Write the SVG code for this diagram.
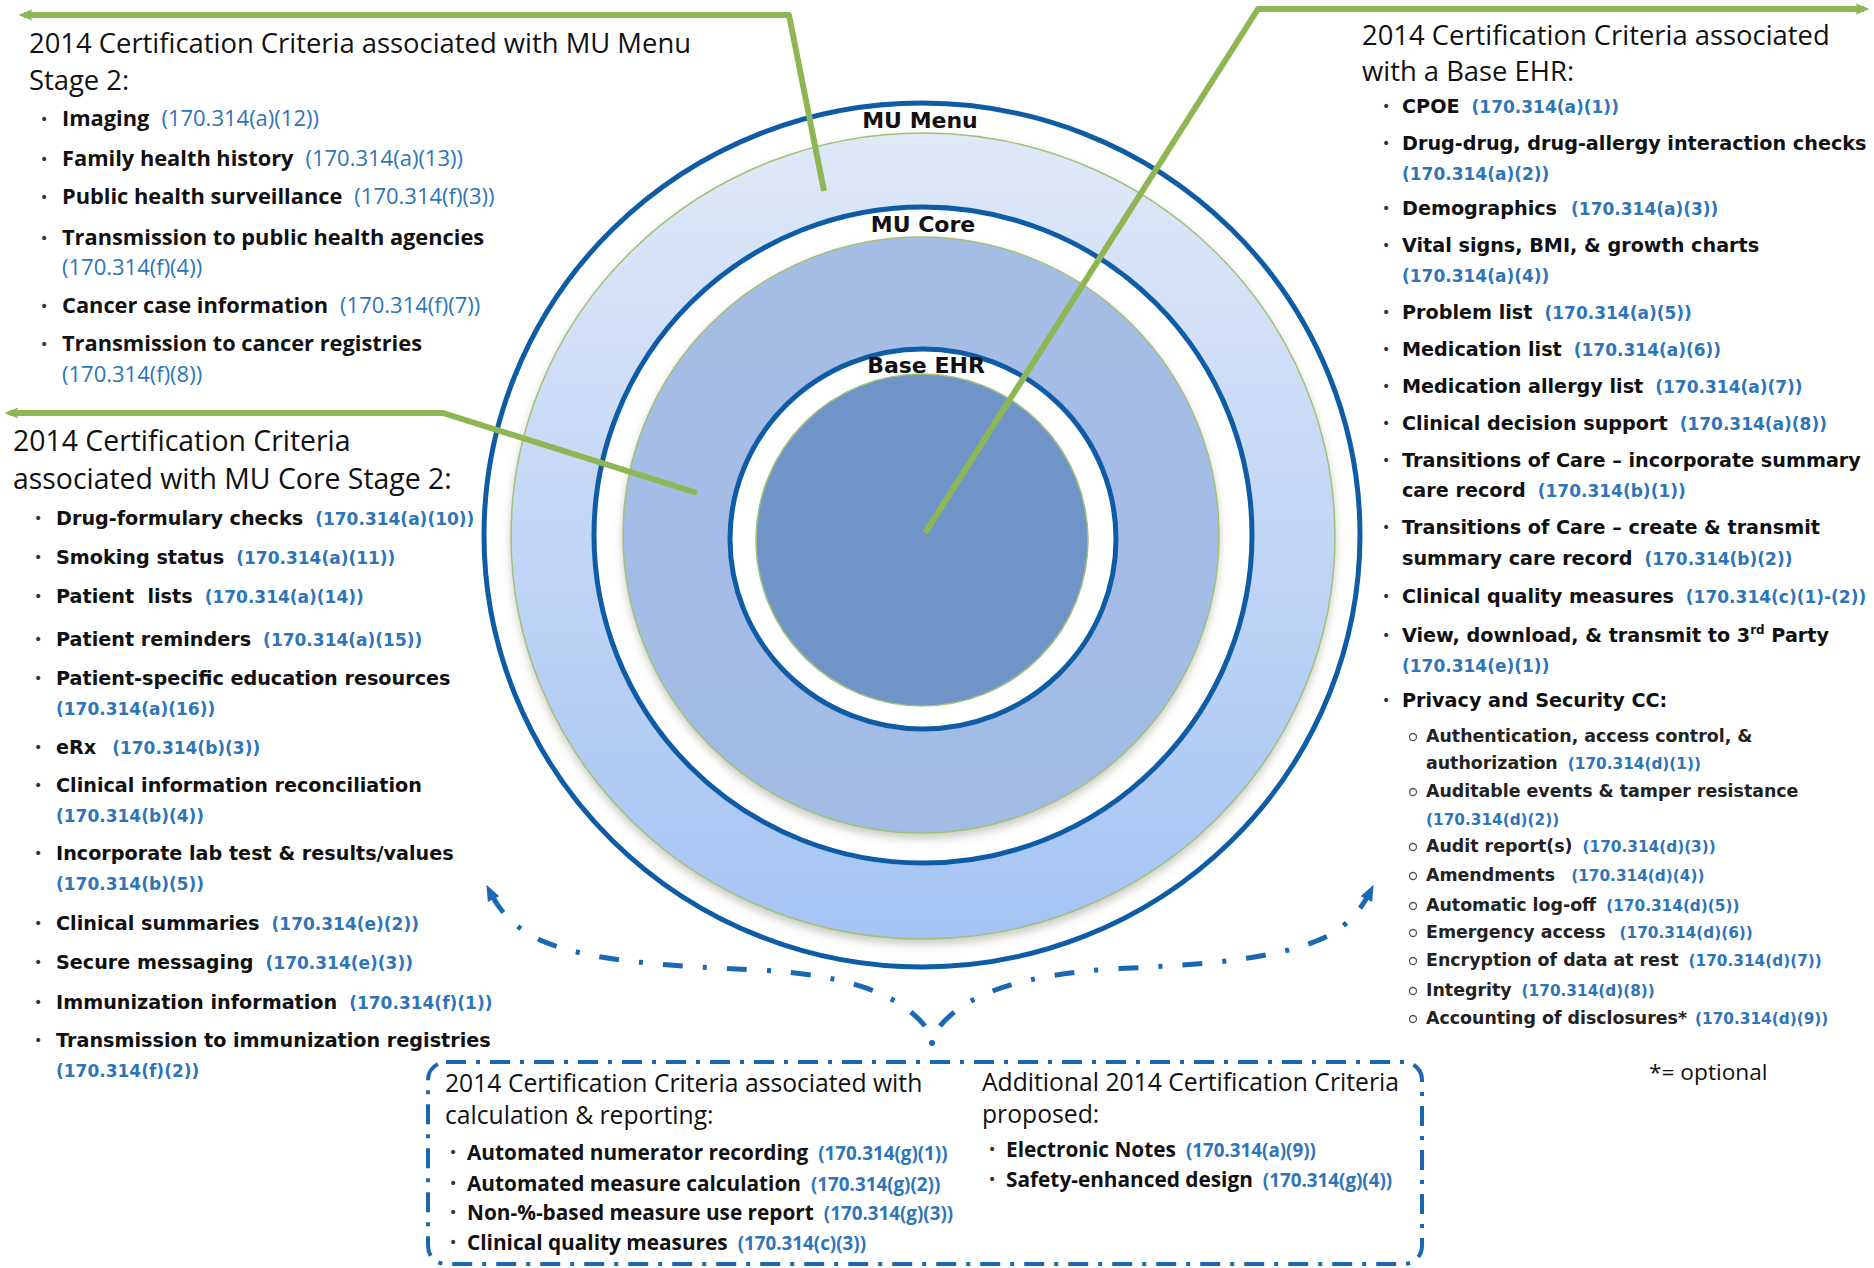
<svg xmlns="http://www.w3.org/2000/svg" width="1874" height="1268" viewBox="0 0 1874 1268">
<defs>
<style>
.ttl{font-family:"Open Sans",Lato,sans-serif;font-size:27.4px;fill:#111}
.mi{font-family:"Open Sans",Lato,sans-serif;font-weight:bold;font-size:21.8px;fill:#111}
.mc{font-family:"Open Sans",Lato,sans-serif;font-weight:normal;font-size:22px;fill:#2e75b8}
.ti{font-family:"DejaVu Sans",Verdana,sans-serif;font-weight:bold;font-size:19.2px;fill:#111}
.tc{font-family:"DejaVu Sans",Verdana,sans-serif;font-weight:bold;font-size:17px;fill:#2e75b8}
.si{font-family:"DejaVu Sans",Verdana,sans-serif;font-weight:bold;font-size:17.4px;fill:#222}
.sc{font-family:"DejaVu Sans",Verdana,sans-serif;font-weight:bold;font-size:15.3px;fill:#2e75b8}
.bt{font-family:"Open Sans",Lato,sans-serif;font-size:24.7px;fill:#111}
.bi{font-family:"Open Sans",Lato,sans-serif;font-weight:bold;font-size:20.8px;fill:#111}
.bc{font-family:"Open Sans",Lato,sans-serif;font-size:18.8px;fill:#2e75b8}
.bul{font-family:"DejaVu Sans",sans-serif;font-size:14px;fill:#333}
.lbl{font-family:"DejaVu Sans",Verdana,sans-serif;font-weight:bold;font-size:22px;fill:#111;text-anchor:middle}
.ring{fill:none;stroke:#0f5ca6;stroke-width:5}
.gline{fill:none;stroke:#8fb655;stroke-width:6;stroke-linejoin:round}
.bdash{fill:none;stroke:#1a68b3;stroke-width:5;stroke-dasharray:20 20 4 20}
.box{fill:none;stroke:#1a68b3;stroke-width:4;stroke-dasharray:20 10 4 10}
.sub{fill:none;stroke:#555;stroke-width:1.3}
</style>
<linearGradient id="gOuter" x1="0" y1="0" x2="0" y2="1">
<stop offset="0" stop-color="#dfe9f8"/>
<stop offset="1" stop-color="#a5c3f4"/>
</linearGradient>
<linearGradient id="gMid" x1="0" y1="0" x2="0" y2="1">
<stop offset="0" stop-color="#a6bde6"/>
<stop offset="1" stop-color="#a2bbe5"/>
</linearGradient>
<filter id="shadow" x="-10%" y="-10%" width="120%" height="125%">
<feGaussianBlur in="SourceAlpha" stdDeviation="4"/>
<feOffset dx="0" dy="5" result="b"/>
<feFlood flood-color="#6a6a5a" flood-opacity="0.35"/>
<feComposite in2="b" operator="in"/>
<feMerge><feMergeNode/><feMergeNode in="SourceGraphic"/></feMerge>
</filter>
<marker id="ga" viewBox="0 0 10 10" refX="6" refY="5" markerUnits="userSpaceOnUse" markerWidth="14" markerHeight="14" orient="auto-start-reverse">
<path d="M0,1 L10,5 L0,9 L2,5 z" fill="#8fb655"/>
</marker>
<marker id="ba" viewBox="0 0 10 10" refX="5" refY="5" markerUnits="userSpaceOnUse" markerWidth="16" markerHeight="16" orient="auto">
<path d="M0,1 L10,5 L0,9 z" fill="#1a68b3"/>
</marker>
</defs>

<g id="rings">
<ellipse class="ring" cx="922" cy="535" rx="438" ry="432" fill="#fff"/>
<ellipse cx="923" cy="536" rx="412" ry="403" fill="url(#gOuter)" stroke="#a3c078" stroke-width="1.5" filter="url(#shadow)"/>
<ellipse cx="923" cy="535" rx="329" ry="328" fill="#fff" stroke="#0f5ca6" stroke-width="5"/>
<circle cx="921" cy="535" r="298" fill="url(#gMid)" stroke="#a3c078" stroke-width="1.5" filter="url(#shadow)"/>
<ellipse cx="923" cy="539" rx="193" ry="190" fill="#fff" stroke="#0f5ca6" stroke-width="5"/>
<circle cx="922" cy="540" r="166" fill="#6f95c8" stroke="#a3c078" stroke-width="1.5"/>
</g>
<g id="ring-labels">
<text class="lbl" x="920" y="128">MU Menu</text>
<text class="lbl" x="923" y="232">MU Core</text>
<text class="lbl" x="926" y="373">Base EHR</text>
</g>

<g id="connectors">
<path class="gline" d="M824,191 L789,15 L24,15" marker-end="url(#ga)"/>
<path class="gline" d="M697,493 L443,413 L10,413" marker-end="url(#ga)"/>
<path class="gline" d="M925,533 L1258,9 L1864,9" marker-end="url(#ga)"/>
<path class="bdash" d="M925,1026 C895,990 840,975 760,970 C670,966 590,962 540,940 C515,928 500,912 490,892" marker-end="url(#ba)"/>
<path class="bdash" d="M940,1026 C970,990 1030,975 1110,969 C1200,965 1280,960 1330,935 C1350,923 1362,908 1370,892" marker-end="url(#ba)"/>
<circle cx="932" cy="1043" r="3" fill="#1a68b3"/>
</g>

<g id="menu-list">
<text class="ttl" x="29" y="53">2014 Certification Criteria associated with MU Menu</text>
<text class="ttl" x="29" y="90">Stage 2:</text>
<text class="bul" x="40" y="124">•</text><text class="mi" x="62" y="126">Imaging<tspan class="mc" dx="12">(170.314(a)(12))</tspan></text>
<text class="bul" x="40" y="164">•</text><text class="mi" x="62" y="166">Family health history<tspan class="mc" dx="12">(170.314(a)(13))</tspan></text>
<text class="bul" x="40" y="202">•</text><text class="mi" x="62" y="204">Public health surveillance<tspan class="mc" dx="12">(170.314(f)(3))</tspan></text>
<text class="bul" x="40" y="243">•</text><text class="mi" x="62" y="245">Transmission to public health agencies</text>
<text class="mc" x="62" y="275">(170.314(f)(4))</text>
<text class="bul" x="40" y="311">•</text><text class="mi" x="62" y="313">Cancer case information<tspan class="mc" dx="12">(170.314(f)(7))</tspan></text>
<text class="bul" x="40" y="349">•</text><text class="mi" x="62" y="351">Transmission to cancer registries</text>
<text class="mc" x="62" y="382">(170.314(f)(8))</text>
</g>

<g id="core-list">
<text class="ttl" x="13" y="451" style="font-size:28.4px">2014 Certification Criteria</text>
<text class="ttl" x="13" y="489" style="font-size:28.4px">associated with MU Core Stage 2:</text>
<text class="bul" x="34" y="523">•</text><text class="ti" x="56" y="525">Drug-formulary checks<tspan class="tc" dx="12">(170.314(a)(10))</tspan></text>
<text class="bul" x="34" y="562">•</text><text class="ti" x="56" y="564">Smoking status<tspan class="tc" dx="12">(170.314(a)(11))</tspan></text>
<text class="bul" x="34" y="601">•</text><text class="ti" x="56" y="603" xml:space="preserve">Patient  lists<tspan class="tc" dx="12">(170.314(a)(14))</tspan></text>
<text class="bul" x="34" y="644">•</text><text class="ti" x="56" y="646">Patient reminders<tspan class="tc" dx="12">(170.314(a)(15))</tspan></text>
<text class="bul" x="34" y="683">•</text><text class="ti" x="56" y="685">Patient-specific education resources</text>
<text class="tc" x="56" y="715">(170.314(a)(16))</text>
<text class="bul" x="34" y="752">•</text><text class="ti" x="56" y="754">eRx<tspan class="tc" dx="16">(170.314(b)(3))</tspan></text>
<text class="bul" x="34" y="790">•</text><text class="ti" x="56" y="792">Clinical information reconciliation</text>
<text class="tc" x="56" y="822">(170.314(b)(4))</text>
<text class="bul" x="34" y="858">•</text><text class="ti" x="56" y="860">Incorporate lab test &amp; results/values</text>
<text class="tc" x="56" y="890">(170.314(b)(5))</text>
<text class="bul" x="34" y="928">•</text><text class="ti" x="56" y="930">Clinical summaries<tspan class="tc" dx="12">(170.314(e)(2))</tspan></text>
<text class="bul" x="34" y="967">•</text><text class="ti" x="56" y="969">Secure messaging<tspan class="tc" dx="12">(170.314(e)(3))</tspan></text>
<text class="bul" x="34" y="1007">•</text><text class="ti" x="56" y="1009">Immunization information<tspan class="tc" dx="12">(170.314(f)(1))</tspan></text>
<text class="bul" x="34" y="1045">•</text><text class="ti" x="56" y="1047">Transmission to immunization registries</text>
<text class="tc" x="56" y="1077">(170.314(f)(2))</text>
</g>

<g id="base-list">
<text class="ttl" x="1362" y="45">2014 Certification Criteria associated</text>
<text class="ttl" x="1362" y="81">with a Base EHR:</text>
<text class="bul" x="1382" y="111">•</text><text class="ti" x="1402" y="113">CPOE<tspan class="tc" dx="12">(170.314(a)(1))</tspan></text>
<text class="bul" x="1382" y="148">•</text><text class="ti" x="1402" y="150">Drug-drug, drug-allergy interaction checks</text>
<text class="tc" x="1402" y="180">(170.314(a)(2))</text>
<text class="bul" x="1382" y="213">•</text><text class="ti" x="1402" y="215">Demographics<tspan class="tc" dx="14">(170.314(a)(3))</tspan></text>
<text class="bul" x="1382" y="250">•</text><text class="ti" x="1402" y="252">Vital signs, BMI, &amp; growth charts</text>
<text class="tc" x="1402" y="282">(170.314(a)(4))</text>
<text class="bul" x="1382" y="317">•</text><text class="ti" x="1402" y="319">Problem list<tspan class="tc" dx="12">(170.314(a)(5))</tspan></text>
<text class="bul" x="1382" y="354">•</text><text class="ti" x="1402" y="356">Medication list<tspan class="tc" dx="12">(170.314(a)(6))</tspan></text>
<text class="bul" x="1382" y="391">•</text><text class="ti" x="1402" y="393">Medication allergy list<tspan class="tc" dx="12">(170.314(a)(7))</tspan></text>
<text class="bul" x="1382" y="428">•</text><text class="ti" x="1402" y="430">Clinical decision support<tspan class="tc" dx="12">(170.314(a)(8))</tspan></text>
<text class="bul" x="1382" y="465">•</text><text class="ti" x="1402" y="467">Transitions of Care – incorporate summary</text>
<text class="ti" x="1402" y="497">care record<tspan class="tc" dx="12">(170.314(b)(1))</tspan></text>
<text class="bul" x="1382" y="532">•</text><text class="ti" x="1402" y="534">Transitions of Care – create &amp; transmit</text>
<text class="ti" x="1402" y="565">summary care record<tspan class="tc" dx="12">(170.314(b)(2))</tspan></text>
<text class="bul" x="1382" y="601">•</text><text class="ti" x="1402" y="603">Clinical quality measures<tspan class="tc" dx="12">(170.314(c)(1)-(2))</tspan></text>
<text class="bul" x="1382" y="640">•</text><text class="ti" x="1402" y="642">View, download, &amp; transmit to 3<tspan font-size="12px" dy="-8">rd</tspan><tspan dy="8"> Party</tspan></text>
<text class="tc" x="1402" y="672">(170.314(e)(1))</text>
<text class="bul" x="1382" y="705">•</text><text class="ti" x="1402" y="707">Privacy and Security CC:</text>
<circle class="sub" cx="1413" cy="737" r="3.5"/><text class="si" x="1426" y="742">Authentication, access control, &amp;</text>
<text class="si" x="1426" y="769">authorization<tspan class="sc" dx="10">(170.314(d)(1))</tspan></text>
<circle class="sub" cx="1413" cy="792" r="3.5"/><text class="si" x="1426" y="797">Auditable events &amp; tamper resistance</text>
<text class="sc" x="1426" y="825">(170.314(d)(2))</text>
<circle class="sub" cx="1413" cy="847" r="3.5"/><text class="si" x="1426" y="852">Audit report(s)<tspan class="sc" dx="10">(170.314(d)(3))</tspan></text>
<circle class="sub" cx="1413" cy="876" r="3.5"/><text class="si" x="1426" y="881">Amendments<tspan class="sc" dx="16">(170.314(d)(4))</tspan></text>
<circle class="sub" cx="1413" cy="906" r="3.5"/><text class="si" x="1426" y="911">Automatic log-off<tspan class="sc" dx="10">(170.314(d)(5))</tspan></text>
<circle class="sub" cx="1413" cy="933" r="3.5"/><text class="si" x="1426" y="938">Emergency access<tspan class="sc" dx="14">(170.314(d)(6))</tspan></text>
<circle class="sub" cx="1413" cy="961" r="3.5"/><text class="si" x="1426" y="966">Encryption of data at rest<tspan class="sc" dx="10">(170.314(d)(7))</tspan></text>
<circle class="sub" cx="1413" cy="991" r="3.5"/><text class="si" x="1426" y="996">Integrity<tspan class="sc" dx="10">(170.314(d)(8))</tspan></text>
<circle class="sub" cx="1413" cy="1019" r="3.5"/><text class="si" x="1426" y="1024">Accounting of disclosures*<tspan class="sc" dx="8">(170.314(d)(9))</tspan></text>
<text class="bt" x="1649" y="1080" style="font-size:22.7px">*= optional</text>
</g>

<g id="bottom-box">
<rect class="box" x="428" y="1062" width="994" height="202" rx="18"/>
<text class="bt" x="445" y="1092">2014 Certification Criteria associated with</text>
<text class="bt" x="445" y="1124">calculation &amp; reporting:</text>
<text class="bul" x="449" y="1157">•</text><text class="bi" x="467" y="1160">Automated numerator recording<tspan class="bc" dx="10">(170.314(g)(1))</tspan></text>
<text class="bul" x="449" y="1188">•</text><text class="bi" x="467" y="1191">Automated measure calculation<tspan class="bc" dx="10">(170.314(g)(2))</tspan></text>
<text class="bul" x="449" y="1217">•</text><text class="bi" x="467" y="1220">Non-%-based measure use report<tspan class="bc" dx="10">(170.314(g)(3))</tspan></text>
<text class="bul" x="449" y="1247">•</text><text class="bi" x="467" y="1250">Clinical quality measures<tspan class="bc" dx="10">(170.314(c)(3))</tspan></text>
<text class="bt" x="982" y="1091">Additional 2014 Certification Criteria</text>
<text class="bt" x="982" y="1123">proposed:</text>
<text class="bul" x="988" y="1154">•</text><text class="bi" x="1006" y="1157">Electronic Notes<tspan class="bc" dx="10">(170.314(a)(9))</tspan></text>
<text class="bul" x="988" y="1184">•</text><text class="bi" x="1006" y="1187">Safety-enhanced design<tspan class="bc" dx="10">(170.314(g)(4))</tspan></text>
</g>
</svg>
